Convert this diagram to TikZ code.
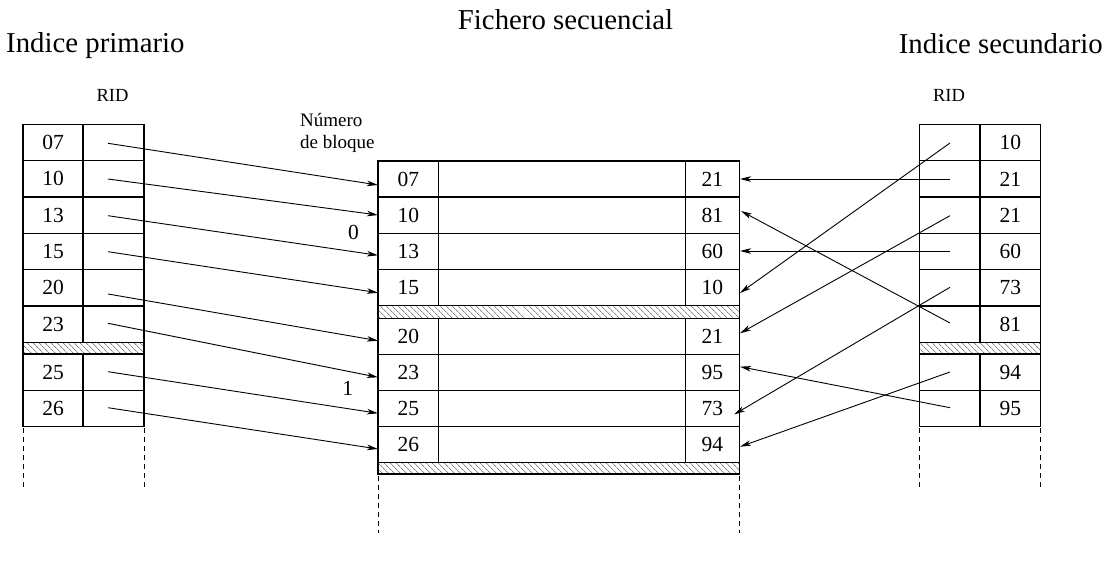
\documentclass[tikz,border=0pt]{standalone}
\usepackage{fontspec}
\setmainfont{Liberation Serif}
\usetikzlibrary{arrows.meta,patterns.meta}
\begin{document}
\begin{tikzpicture}[x=1pt,y=-1pt,
  tbl/.style={line width=1.2pt},
  hatch/.style={line width=1.2pt, pattern={Lines[angle=-45,distance=4pt,line width=0.6pt]}, pattern color=black!75},
  cont/.style={line width=1pt, dash pattern=on 5pt off 4pt},
  ptr/.style={line width=0.9pt, -{Stealth[length=11pt,width=5.5pt,inset=3pt]}},
  num/.style={font=\fontsize{21.5}{25}\selectfont, inner sep=0pt},
  ttl/.style={font=\fontsize{28.8}{34}\selectfont, inner sep=0pt},
  small/.style={font=\fontsize{18.5}{22}\selectfont, inner sep=0pt}]
\useasboundingbox (0,0) rectangle (1109,577);

% titles
\node[ttl, anchor=base] (tfs) at (565.5,30) {Fichero secuencial};
\node[ttl, anchor=base west] (tip) at (6,53) {Indice primario};
\node[ttl, anchor=base east] (tis) at (1103,53.3) {Indice secundario};
\node[small, anchor=base] (ridl) at (112.5,101.7) {RID};
\node[small, anchor=base] (ridr) at (949,101.7) {RID};
\node[small, font=\fontsize{19}{22}\selectfont, anchor=base west] (nb1) at (300,127) {Número};
\node[small, font=\fontsize{19}{22}\selectfont, anchor=base west] (nb2) at (300,148.3) {de bloque};
\node[num, anchor=base] (blk0) at (353.5,240) {0};
\node[num, anchor=base] (blk1) at (347.7,395.7) {1};

% ---------- left table ----------
\draw[tbl] (23,124.5) rectangle (144,342.3);
\foreach \y in {160.8,197.1,233.4,269.7,306} \draw[tbl] (23,\y) -- (144,\y);
\draw[tbl] (83,124.5) -- (83,342.3);
\draw[hatch] (23,342.3) rectangle (144,354);
\draw[tbl] (23,354) rectangle (144,426.6);
\draw[tbl] (23,390.3) -- (144,390.3);
\draw[tbl] (83,354) -- (83,426.6);
\draw[cont] (23,428) -- (23,487);
\draw[cont] (144,428) -- (144,487);
\foreach \t/\y [count=\i] in {07/142.65,10/178.95,13/215.25,15/251.55,20/287.85,23/324.15,25/372.15,26/408.45}
  \node[num] (lk\i) at (53,\y) {\t};

% ---------- middle table ----------
\draw[tbl] (378,161) rectangle (739.3,305.4);
\foreach \y in {197.1,233.2,269.3} \draw[tbl] (378,\y) -- (739.3,\y);
\draw[tbl] (438.7,161) -- (438.7,305.4);
\draw[tbl] (685.3,161) -- (685.3,305.4);
\draw[hatch] (378,305.4) rectangle (739.3,318.2);
\draw[tbl] (378,318.2) rectangle (739.3,462.6);
\foreach \y in {354.3,390.4,426.5} \draw[tbl] (378,\y) -- (739.3,\y);
\draw[tbl] (438.7,318.2) -- (438.7,462.6);
\draw[tbl] (685.3,318.2) -- (685.3,462.6);
\draw[hatch] (378,462.6) rectangle (739.3,474);
\draw[cont] (378,476) -- (378,533);
\draw[cont] (739.3,476) -- (739.3,533);
\foreach \a/\b/\y [count=\i] in {07/21/179.05,10/81/215.15,13/60/251.25,15/10/287.35,20/21/336.25,23/95/372.35,25/73/408.45,26/94/444.55}{
  \node[num] (mk\i) at (408.3,\y) {\a};
  \node[num] (ms\i) at (712.3,\y) {\b};
}

% ---------- right table ----------
\draw[tbl] (919.5,124.5) rectangle (1040.5,342.3);
\foreach \y in {160.8,197.1,233.4,269.7,306} \draw[tbl] (919.5,\y) -- (1040.5,\y);
\draw[tbl] (980,124.5) -- (980,342.3);
\draw[hatch] (919.5,342.3) rectangle (1040.5,354);
\draw[tbl] (919.5,354) rectangle (1040.5,426.6);
\draw[tbl] (919.5,390.3) -- (1040.5,390.3);
\draw[tbl] (980,354) -- (980,426.6);
\draw[cont] (919.5,428) -- (919.5,487);
\draw[cont] (1040.5,428) -- (1040.5,487);
\foreach \t/\y [count=\i] in {10/142.65,21/178.95,21/215.25,60/251.55,73/287.85,81/324.15,94/372.15,95/408.45}
  \node[num] (rk\i) at (1010.3,\y) {\t};

% ---------- pointer coordinates ----------
\coordinate (ls1) at (108,143.3);
\coordinate (ls2) at (108,179);
\coordinate (ls3) at (108,215.7);
\coordinate (ls4) at (108,251.7);
\coordinate (ls5) at (108,294);
\coordinate (ls6) at (108,323.3);
\coordinate (ls7) at (108,371.7);
\coordinate (ls8) at (108,407.7);
\coordinate (le1) at (378,185);
\coordinate (le2) at (378,215);
\coordinate (le3) at (378,255.3);
\coordinate (le4) at (378,292.7);
\coordinate (le5) at (378,340.7);
\coordinate (le6) at (378,377.3);
\coordinate (le7) at (378,413.3);
\coordinate (le8) at (378,449);

\coordinate (rs1) at (950,143);
\coordinate (rs2) at (950,179);
\coordinate (rs3) at (950,215.7);
\coordinate (rs4) at (950,251);
\coordinate (rs5) at (950,287.3);
\coordinate (rs6) at (950,323);
\coordinate (rs7) at (950,372);
\coordinate (rs8) at (950,407.7);
\coordinate (re1) at (740,293);
\coordinate (re2) at (740,179);
\coordinate (re3) at (740,333.3);
\coordinate (re4) at (740,251);
\coordinate (re5) at (734,414.5);
\coordinate (re6) at (741,211);
\coordinate (re7) at (740,446.7);
\coordinate (re8) at (740,366.7);

\foreach \i in {1,...,8} {
  \draw[ptr] (ls\i) -- (le\i);
  \draw[ptr] (rs\i) -- (re\i);
}
\end{tikzpicture}
\end{document}
